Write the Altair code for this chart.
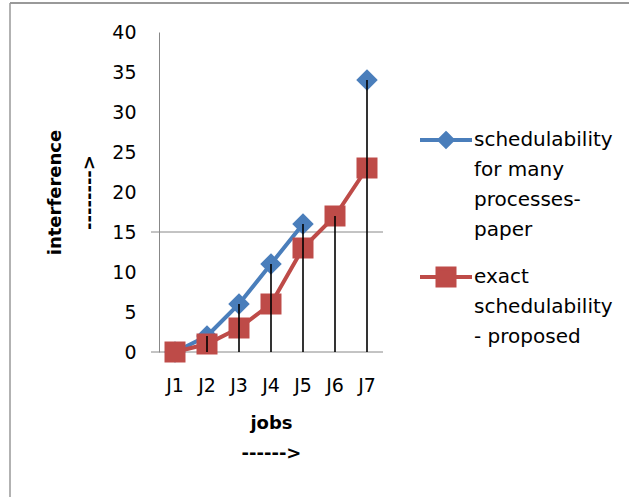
import altair as alt
import pandas as pd

# ---- data ----
jobs = ["J1", "J2", "J3", "J4", "J5", "J6", "J7"]
paper_vals = [0, 2, 6, 11, 16, None, 34]
proposed_vals = [0, 1, 3, 6, 13, 17, 23]
paper_label = ["schedulability", "for many", "processes-", "paper"]
proposed_label = ["exact", "schedulability", "- proposed"]
y_ticks = [0, 5, 10, 15, 20, 25, 30, 35, 40]
h_lines = [0, 15]

S1 = "|".join(paper_label)
S2 = "|".join(proposed_label)
BLUE = "#4A7EBB"
RED = "#BE4B48"
FONT = "DejaVu Sans"

df = pd.DataFrame({
    "job": jobs * 2,
    "series": [S1] * len(jobs) + [S2] * len(jobs),
    "value": paper_vals + proposed_vals,
})
drop_df = pd.DataFrame({
    "job": jobs,
    "value": [max(v for v in (a, b) if v is not None) for a, b in zip(paper_vals, proposed_vals)],
    "bottom": [0] * len(jobs),
})
hl_df = pd.DataFrame({"value": h_lines})
legend_df = pd.DataFrame({"series": [S1, S2]})
one = pd.DataFrame({"a": [0]})

W, H = 224, 320

x_axis = alt.Axis(
    title=["jobs", "------>"], titleFont=FONT, titleFontSize=18, titleFontWeight="bold",
    titleLineHeight=30, titleColor="black",
    labelFont=FONT, labelFontSize=19, labelColor="black", labelAngle=0, labelPadding=24,
    labelOverlap=False, ticks=False, domain=False, titlePadding=19)
y_axis = alt.Axis(
    values=y_ticks, grid=False, ticks=False, domain=True, domainColor="#888888",
    labelFont=FONT, labelFontSize=19, labelColor="black", labelPadding=23,
    labelOverlap=False, labelBound=False, labelFlush=False,
    title=["interference", "-------->"], titleFont=FONT, titleFontSize=18,
    titleFontWeight="bold", titleLineHeight=34, titleColor="black", titlePadding=13)
y_scale = alt.Scale(domain=[0, 40], nice=False)

x_enc = alt.X("job:N", sort=jobs, axis=x_axis)
y_enc = alt.Y("value:Q", scale=y_scale, axis=y_axis)

base = alt.Chart(df)

hlines = alt.Chart(hl_df).mark_rule(color="#888888", strokeWidth=1).encode(
    y=y_enc, x=alt.value(-8), x2=alt.value(W))

blue_line = base.transform_filter(alt.datum.series == S1).mark_line(
    color=BLUE, strokeWidth=4, invalid="break-paths-show-domains").encode(x=x_enc, y=y_enc)
blue_pts = base.transform_filter(alt.datum.series == S1).mark_point(
    shape="diamond", filled=True, size=460, color=BLUE, opacity=1).encode(x=x_enc, y=y_enc)
red_line = base.transform_filter(alt.datum.series == S2).mark_line(
    color=RED, strokeWidth=4).encode(x=x_enc, y=y_enc)
red_pts = base.transform_filter(alt.datum.series == S2).mark_point(
    shape="square", filled=True, size=441, color=RED, opacity=1).encode(x=x_enc, y=y_enc)

drops = alt.Chart(drop_df).mark_rule(color="black", strokeWidth=1.6).encode(
    x=x_enc, y=y_enc, y2="bottom:Q")

leg = alt.Legend(
    title=None, orient="none", legendX=277, legendY=98, padding=0,
    labelExpr="split(datum.label, '|')", labelFont=FONT, labelFontSize=20,
    labelColor="black", labelLimit=400, labelOffset=18, rowPadding=20,
    symbolStrokeWidth=4, symbolSize=4, symbolOpacity=1)
blue_path = "M-26,0L26,0M0,-6.5L6.5,0L0,6.5L-6.5,0Z"
red_path = "M-26,0L26,0M-8.5,-8.5L8.5,-8.5L8.5,8.5L-8.5,8.5Z"
legend_layer = alt.Chart(legend_df).transform_filter("false").mark_point(
    filled=True, size=4, opacity=1).encode(
    fill=alt.Fill("series:N", scale=alt.Scale(domain=[S1, S2], range=[BLUE, RED]), legend=leg),
    stroke=alt.Stroke("series:N", scale=alt.Scale(domain=[S1, S2], range=[BLUE, RED]), legend=leg),
    shape=alt.Shape("series:N", scale=alt.Scale(domain=[S1, S2], range=[blue_path, red_path]), legend=leg),
)

border_top = alt.Chart(one).mark_rule(color="#999999", strokeWidth=2).encode(
    x=alt.value(-149), x2=alt.value(480), y=alt.value(-29))
border_left = alt.Chart(one).mark_rule(color="#999999", strokeWidth=1.5).encode(
    x=alt.value(-149), y=alt.value(-29), y2=alt.value(480))

chart = alt.layer(
    border_top, border_left, hlines, blue_line, blue_pts, red_line, red_pts, drops, legend_layer
).properties(
    width=W, height=H,
    autosize=alt.AutoSizeParams(type="none"),
    padding={"left": 159, "top": 32, "right": 246, "bottom": 145},
    background="white",
).configure(
    style={"guide-label": {"lineHeight": 30}}
).configure_view(stroke=None)

chart.save("out.html", embed_options={"renderer": "svg", "actions": False})
